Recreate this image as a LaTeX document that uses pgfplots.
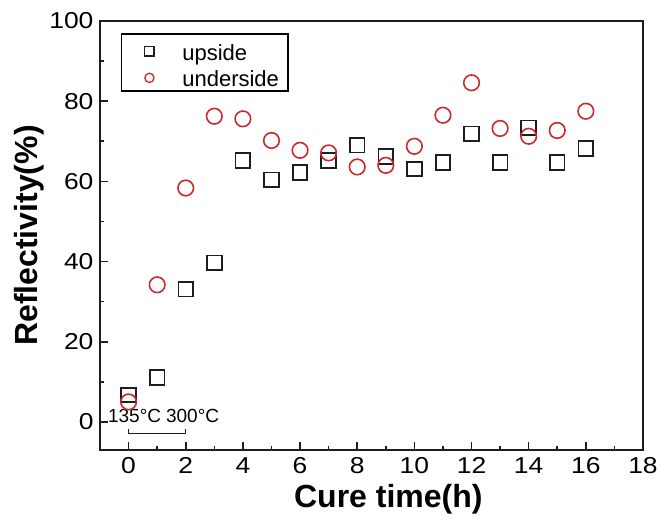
\documentclass[border=0pt]{standalone}
\usepackage{pgfplots}
\pgfplotsset{compat=1.18}
\usepackage{fontspec}
\setmainfont{Liberation Sans}
\newfontfamily\tickfont[FakeStretch=1.15]{Liberation Sans}
\definecolor{myred}{RGB}{204,40,45}
\definecolor{myblk}{RGB}{30,30,30}
\begin{document}
\begin{tikzpicture}
\begin{axis}[
  scale only axis,
  width=543pt, height=429pt,
  xmin=-1, xmax=18, ymin=-7, ymax=100,
  xtick={0,2,...,18}, ytick={0,20,...,100},
  minor x tick num=1, minor y tick num=1,
  tick pos=left, tick align=inside,
  major tick length=8pt, minor tick length=4pt,
  axis line style={line width=1.8pt, myblk},
  every tick/.style={line width=1.6pt, myblk},
  /pgf/number format/assume math mode=true,
  tick label style={font=\tickfont\fontsize{23}{23}\selectfont},
  xticklabel style={yshift=-4pt},
  yticklabel style={xshift=-3pt},
  xlabel={\textbf{Cure time(h)}},
  ylabel={\textbf{Reflectivity(\%)}},
  label style={font=\fontsize{32}{32}\selectfont},
  xlabel style={at={(axis description cs:0.531,-0.1329)}, anchor=base},
  ylabel style={at={(axis description cs:-0.1144,0.5)}, anchor=base},
  legend style={at={(axis description cs:0.038,0.971)}, anchor=north west,
    draw=black, line width=1.8pt, inner xsep=9pt, inner ysep=2pt,
    font=\fontsize{22}{22}\selectfont, row sep=0.3pt,
    nodes={inner sep=0pt, text height=24pt, text depth=2.2pt}},
  legend cell align=left,
  legend image code/.code={\path (-18pt,0pt) coordinate (la) (32pt,0pt) coordinate (lb);
    \draw[#1, mark size=4.6pt, line width=1.3pt] plot coordinates {(0pt,-1.9pt)};},
]
\addplot[only marks, mark=square, mark size=7.3pt, line width=1.8pt, myblk] coordinates {
(0,6.7)(1,11.1)(2,33.1)(3,39.7)(4,65.25)(5,60.4)(6,62.25)(7,65.2)(8,69)
(9,66.25)(10,63.1)(11,64.75)(12,71.85)(13,64.75)(14,73.35)(15,64.75)(16,68.2)};
\addlegendentry{upside}
\addplot[only marks, mark=o, mark size=7.8pt, line width=1.6pt, myred] coordinates {
(0,5)(1,34.2)(2,58.35)(3,76.25)(4,75.6)(5,70.2)(6,67.75)(7,67.1)(8,63.6)
(9,64)(10,68.75)(11,76.5)(12,84.6)(13,73.2)(14,71.25)(15,72.7)(16,77.5)};
\addlegendentry{underside}
\addplot[myblk, line width=1.3pt, forget plot] coordinates {(0,-1.8)(0,-2.9)(2,-2.9)(2,-1.8)};
\node[anchor=base, font=\fontsize{19}{19}\selectfont, inner sep=0pt] at (axis cs:0.21,-0.1) {135°C};
\node[anchor=base, font=\fontsize{19}{19}\selectfont, inner sep=0pt] at (axis cs:2.24,-0.1) {300°C};
\end{axis}
\pgfresetboundingbox
\path (current axis.south west) ++(-100pt,-73pt) coordinate (bbA);
\path (current axis.north east) ++(14pt,21pt) coordinate (bbB);
\path[use as bounding box] (bbA) rectangle (bbB);
\end{tikzpicture}
\end{document}
